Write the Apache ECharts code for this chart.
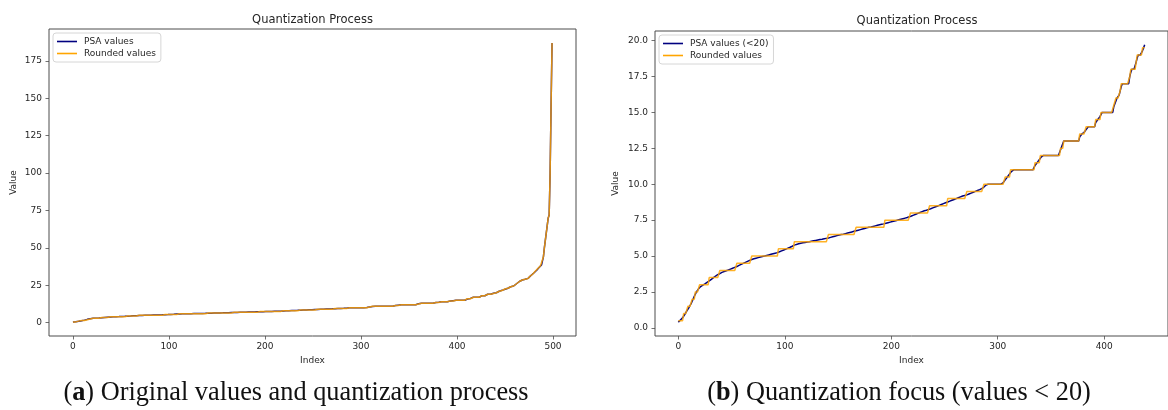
<!DOCTYPE html>
<html>
<head>
<meta charset="utf-8">
<title>Quantization Process</title>
<script src="https://cdn.jsdelivr.net/npm/echarts@6/dist/echarts.min.js"></script>
<style>
  html, body { margin: 0; padding: 0; background: #ffffff; }
  #chart { width: 1168px; height: 410px; }
</style>
</head>
<body>
<div id="chart"></div>
<script>
// Sorted PSA values (index 0..499)
const psaValues = [
  0.40, 0.48, 0.55, 0.63, 0.70, 0.80, 0.93, 1.05, 1.18, 1.30, 1.42, 1.55, 1.68, 1.85, 2.02, 2.20, 2.35, 2.50, 2.62, 2.72,
  2.80, 2.88, 2.93, 2.98, 3.02, 3.07, 3.12, 3.17, 3.23, 3.27, 3.33, 3.38, 3.44, 3.50, 3.55, 3.60, 3.65, 3.70, 3.74,
  3.78, 3.82, 3.86, 3.89, 3.92, 3.95, 3.98, 4.00, 4.03, 4.06, 4.09, 4.12, 4.15, 4.18, 4.21, 4.24,
  4.27, 4.31, 4.35, 4.38, 4.42, 4.45, 4.49, 4.52, 4.56, 4.59, 4.63, 4.66, 4.70, 4.73,
  4.76, 4.79, 4.81, 4.83, 4.85, 4.87, 4.89, 4.91, 4.93, 4.95, 4.97, 4.99, 5.00, 5.02, 5.04, 5.06, 5.08, 5.10, 5.12, 5.14, 5.16, 5.18, 5.20, 5.22, 5.24,
  5.27, 5.30, 5.33, 5.36, 5.39, 5.42, 5.45, 5.48, 5.52, 5.55, 5.58, 5.61, 5.64, 5.68, 5.72,
  5.76, 5.79, 5.81, 5.83, 5.85, 5.87, 5.89, 5.90, 5.92, 5.94, 5.95, 5.97, 5.98, 6.00, 6.00, 6.02, 6.03, 6.05, 6.06, 6.08, 6.09, 6.10, 6.12, 6.13, 6.15, 6.16, 6.17, 6.19, 6.20, 6.21, 6.23, 6.24,
  6.26, 6.28, 6.30, 6.32, 6.34, 6.36, 6.38, 6.40, 6.42, 6.44, 6.46, 6.48, 6.50, 6.50, 6.52, 6.54, 6.56, 6.58, 6.60, 6.62, 6.64, 6.66, 6.68, 6.70, 6.72, 6.74,
  6.76, 6.78, 6.80, 6.82, 6.84, 6.86, 6.88, 6.90, 6.92, 6.94, 6.96, 6.98, 7.00, 7.00, 7.02, 7.04, 7.06, 7.08, 7.10, 7.12, 7.14, 7.16, 7.18, 7.20, 7.21, 7.23, 7.24,
  7.26, 7.28, 7.30, 7.32, 7.34, 7.36, 7.38, 7.40, 7.42, 7.44, 7.46, 7.48, 7.50, 7.52, 7.54, 7.56, 7.58, 7.60, 7.62, 7.64, 7.66, 7.68, 7.70, 7.73,
  7.76, 7.79, 7.82, 7.85, 7.88, 7.91, 7.94, 7.97, 8.00, 8.03, 8.06, 8.09, 8.12, 8.15, 8.17, 8.19, 8.21, 8.24,
  8.26, 8.29, 8.32, 8.35, 8.38, 8.41, 8.44, 8.47, 8.50, 8.53, 8.56, 8.59, 8.62, 8.65, 8.68, 8.71, 8.74,
  8.76, 8.79, 8.82, 8.85, 8.88, 8.91, 8.94, 8.97, 9.00, 9.03, 9.06, 9.09, 9.12, 9.15, 9.18, 9.20, 9.22, 9.24,
  9.26, 9.29, 9.32, 9.35, 9.38, 9.41, 9.44, 9.47, 9.50, 9.53, 9.56, 9.59, 9.62, 9.65, 9.69, 9.73,
  9.80, 9.90, 9.95, 10, 10, 10, 10, 10, 10, 10, 10, 10, 10, 10, 10, 10, 10, 10, 10.10, 10.20,
  10.30, 10.40, 10.50, 10.60, 10.70, 10.80, 10.90,
  11, 11, 11, 11, 11, 11, 11, 11, 11, 11, 11, 11, 11, 11, 11, 11, 11, 11, 11, 11, 11,
  11.30, 11.40, 11.50, 11.60, 11.70, 11.80, 11.90,
  12, 12, 12, 12, 12, 12, 12, 12, 12, 12, 12, 12, 12, 12, 12, 12, 12,
  12.40, 12.60, 12.70,
  13, 13, 13, 13, 13, 13, 13, 13, 13, 13, 13, 13, 13, 13, 13,
  13.30, 13.40, 13.50, 13.50, 13.60, 13.70, 13.80, 13.90,
  14, 14, 14, 14, 14, 14, 14,
  14.30, 14.40, 14.50, 14.60, 14.70, 14.80,
  15, 15, 15, 15, 15, 15, 15, 15, 15, 15, 15,
  15.40, 15.60, 15.80, 16.00, 16.00, 16.20, 16.50, 16.80,
  17, 17, 17, 17, 17, 17, 17,
  17.50, 17.80, 18, 18, 18, 18, 18.50, 18.80, 19, 19, 19, 19, 19.30, 19.50, 19.70,
  20.0, 20.0, 20.0, 20.5, 20.8, 21.0, 21.0, 21.3, 21.6, 22.0, 22.0, 22.3, 22.6, 23.0, 23.0, 23.3, 23.6, 24.0, 24.0, 24.2,
  24.5, 25.0, 25.5, 26.0, 26.5, 27.0, 27.5, 28.0, 28.2, 28.5, 28.7, 29.0, 29.0, 29.1, 29.3, 29.6, 30.2, 30.9, 31.5, 32.0,
  32.6, 33.2, 33.8, 34.3, 35.0, 35.8, 36.5, 37.2, 37.8, 38.5, 39.2, 44.0, 50.0, 55.0, 60.0, 65.0, 70.0, 72.0, 100.0, 145.0,
  187.0
];

// The same values rounded to the nearest 0.5
const roundedValues = [
  0.5, 0.5, 0.5, 0.5, 0.5,
  1, 1, 1, 1,
  1.5, 1.5, 1.5, 1.5,
  2, 2, 2,
  2.5, 2.5, 2.5, 2.5,
  3, 3, 3, 3, 3, 3, 3, 3, 3,
  3.5, 3.5, 3.5, 3.5, 3.5, 3.5, 3.5, 3.5, 3.5, 3.5,
  4, 4, 4, 4, 4, 4, 4, 4, 4, 4, 4, 4, 4, 4, 4, 4,
  4.5, 4.5, 4.5, 4.5, 4.5, 4.5, 4.5, 4.5, 4.5, 4.5, 4.5, 4.5, 4.5, 4.5,
  5, 5, 5, 5, 5, 5, 5, 5, 5, 5, 5, 5, 5, 5, 5, 5, 5, 5, 5, 5, 5, 5, 5, 5, 5,
  5.5, 5.5, 5.5, 5.5, 5.5, 5.5, 5.5, 5.5, 5.5, 5.5, 5.5, 5.5, 5.5, 5.5, 5.5,
  6, 6, 6, 6, 6, 6, 6, 6, 6, 6, 6, 6, 6, 6, 6, 6, 6, 6, 6, 6, 6, 6, 6, 6, 6, 6, 6, 6, 6, 6, 6, 6,
  6.5, 6.5, 6.5, 6.5, 6.5, 6.5, 6.5, 6.5, 6.5, 6.5, 6.5, 6.5, 6.5, 6.5, 6.5, 6.5, 6.5, 6.5, 6.5, 6.5, 6.5, 6.5, 6.5, 6.5, 6.5, 6.5,
  7, 7, 7, 7, 7, 7, 7, 7, 7, 7, 7, 7, 7, 7, 7, 7, 7, 7, 7, 7, 7, 7, 7, 7, 7, 7, 7,
  7.5, 7.5, 7.5, 7.5, 7.5, 7.5, 7.5, 7.5, 7.5, 7.5, 7.5, 7.5, 7.5, 7.5, 7.5, 7.5, 7.5, 7.5, 7.5, 7.5, 7.5, 7.5, 7.5, 7.5,
  8, 8, 8, 8, 8, 8, 8, 8, 8, 8, 8, 8, 8, 8, 8, 8, 8, 8,
  8.5, 8.5, 8.5, 8.5, 8.5, 8.5, 8.5, 8.5, 8.5, 8.5, 8.5, 8.5, 8.5, 8.5, 8.5, 8.5, 8.5,
  9, 9, 9, 9, 9, 9, 9, 9, 9, 9, 9, 9, 9, 9, 9, 9, 9, 9,
  9.5, 9.5, 9.5, 9.5, 9.5, 9.5, 9.5, 9.5, 9.5, 9.5, 9.5, 9.5, 9.5, 9.5, 9.5, 9.5,
  10, 10, 10, 10, 10, 10, 10, 10, 10, 10, 10, 10, 10, 10, 10, 10, 10, 10, 10, 10,
  10.5, 10.5, 10.5, 10.5, 10.5,
  11, 11, 11, 11, 11, 11, 11, 11, 11, 11, 11, 11, 11, 11, 11, 11, 11, 11, 11, 11, 11, 11, 11,
  11.5, 11.5, 11.5, 11.5, 11.5,
  12, 12, 12, 12, 12, 12, 12, 12, 12, 12, 12, 12, 12, 12, 12, 12, 12, 12, 12,
  12.5, 12.5, 12.5,
  13, 13, 13, 13, 13, 13, 13, 13, 13, 13, 13, 13, 13, 13, 13,
  13.5, 13.5, 13.5, 13.5, 13.5, 13.5,
  14, 14, 14, 14, 14, 14, 14, 14, 14,
  14.5, 14.5, 14.5, 14.5, 14.5,
  15, 15, 15, 15, 15, 15, 15, 15, 15, 15, 15, 15,
  15.5, 15.5,
  16, 16, 16, 16,
  16.5,
  17, 17, 17, 17, 17, 17, 17, 17,
  17.5,
  18, 18, 18, 18, 18,
  18.5,
  19, 19, 19, 19, 19,
  19.5, 19.5, 19.5,
  20.0, 20.0, 20.0, 20.5, 21.0, 21.0, 21.0, 21.5, 21.5, 22.0, 22.0, 22.5, 22.5, 23.0, 23.0, 23.5, 23.5, 24.0, 24.0, 24.0,
  24.5, 25.0, 25.5, 26.0, 26.5, 27.0, 27.5, 28.0, 28.0, 28.5, 28.5, 29.0, 29.0, 29.0, 29.5, 29.5, 30.0, 31.0, 31.5, 32.0,
  32.5, 33.0, 34.0, 34.5, 35.0, 36.0, 36.5, 37.0, 38.0, 38.5, 39.0, 44.0, 50.0, 55.0, 60.0, 65.0, 70.0, 72.0, 100.0, 145.0,
  187.0
];

// Tick positions
const xTicksAll = [0, 100, 200, 300, 400, 500];
const yTicksAll = [0, 25, 50, 75, 100, 125, 150, 175];
const xTicksFocus = [0, 100, 200, 300, 400];
const yTicksFocus = [0, 2.5, 5, 7.5, 10, 12.5, 15, 17.5, 20];

// Texts
const panelTitle = 'Quantization Process';
const seriesNames = ['PSA values', 'Rounded values', 'PSA values (<20)'];
const captionA = ['a', 'Original values and quantization process'];
const captionB = ['b', 'Quantization focus (values < 20)'];
const threshold = 20;

// ---- build ----
const focusPsa = [];
const focusRounded = [];
psaValues.forEach(function (v, i) {
  if (v < threshold) { focusPsa.push(v); focusRounded.push(roundedValues[i]); }
});

function pairs(arr) { return arr.map(function (v, i) { return [i, v]; }); }

// axis limits with a 5% margin around the data, as in a default matplotlib plot
function padded(lo, hi) { const m = (hi - lo) * 0.05; return [lo - m, hi + m]; }
function dataRange(a, b) {
  const all = a.concat(b);
  return [Math.min.apply(null, all), Math.max.apply(null, all)];
}
const xAll = padded(0, psaValues.length - 1);
const yAll = padded.apply(null, dataRange(psaValues, roundedValues));
const xFoc = padded(0, focusPsa.length - 1);
const yFoc = padded.apply(null, dataRange(focusPsa, focusRounded));

const SANS = 'DejaVu Sans';
const TXT = '#262626';
const EDGE = '#4d4d4d';
const NAVY = '#000080';
const ORANGE = '#FFA500';

function axis(gridIndex, range, ticks, name, nameGap, labelMargin, fmt) {
  return {
    type: 'value', gridIndex: gridIndex, min: range[0], max: range[1],
    name: name, nameLocation: 'middle', nameGap: nameGap,
    nameTextStyle: { fontFamily: SANS, fontSize: 9, color: TXT },
    splitLine: { show: false },
    axisLine: { show: false, onZero: false },
    axisTick: { show: true, inside: false, length: 3.5, customValues: ticks, lineStyle: { color: EDGE, width: 0.8 } },
    axisLabel: { show: true, customValues: ticks, margin: labelMargin, fontFamily: SANS, fontSize: 9, color: TXT, formatter: fmt }
  };
}

function legend(left, top, names) {
  return {
    data: names, left: left, top: top, orient: 'vertical',
    icon: 'rect', itemWidth: 20, itemHeight: 1.6, itemGap: 3,
    backgroundColor: 'rgba(255,255,255,0.85)', borderColor: '#d6d6d6', borderWidth: 1, borderRadius: 3,
    padding: [4, 5, 4, 4], selectedMode: false,
    textStyle: { fontFamily: SANS, fontSize: 9, color: TXT, padding: [0, 0, 0, 2] }
  };
}

function lineSeries(name, data, xi, color, z, opacity) {
  return {
    type: 'line', name: name, data: pairs(data), xAxisIndex: xi, yAxisIndex: xi,
    showSymbol: false, symbol: 'none', z: z, clip: true,
    color: color, lineStyle: { color: color, width: 1.5, opacity: opacity },
    emphasis: { disabled: true }
  };
}

function text(x, y, str, size, family, extra) {
  const style = Object.assign({
    text: str, x: x, y: y, fontSize: size, fontFamily: family, fill: TXT,
    align: 'center', verticalAlign: 'middle', textAlign: 'center', textVerticalAlign: 'middle'
  }, extra || {});
  return { type: 'text', silent: true, style: style };
}

const fmtOne = function (v) { return v.toFixed(1); };
const fmtInt = function (v) { return String(v); };

const option = {
  animation: false,
  backgroundColor: '#ffffff',
  grid: [
    { left: 49, top: 29, width: 527, height: 307, show: true, borderColor: EDGE, borderWidth: 1, backgroundColor: 'transparent' },
    { left: 655, top: 31, width: 524, height: 305, show: true, borderColor: EDGE, borderWidth: 1, backgroundColor: 'transparent' }
  ],
  xAxis: [
    axis(0, xAll, xTicksAll, 'Index', 18, 6, fmtInt),
    axis(1, xFoc, xTicksFocus, 'Index', 18, 6, fmtInt)
  ],
  yAxis: [
    axis(0, yAll, yTicksAll, 'Value', 31, 7, fmtInt),
    axis(1, yFoc, yTicksFocus, 'Value', 35, 7, fmtOne)
  ],
  legend: [
    legend(53, 33, [seriesNames[0], seriesNames[1]]),
    legend(659, 35, [seriesNames[2], seriesNames[1]])
  ],
  series: [
    lineSeries(seriesNames[0], psaValues, 0, NAVY, 2, 1),
    lineSeries(seriesNames[1], roundedValues, 0, ORANGE, 3, 0.85),
    lineSeries(seriesNames[2], focusPsa, 1, NAVY, 2, 1),
    lineSeries(seriesNames[1], focusRounded, 1, ORANGE, 3, 0.85)
  ],
  graphic: [
    text(312.5, 20, panelTitle, 11.5, SANS),
    text(917, 21.5, panelTitle, 11.5, SANS),
    text(296, 393, '({b|' + captionA[0] + '}) ' + captionA[1], 26.3, 'Liberation Serif',
      { fill: '#111', rich: { b: { fontWeight: 'bold', fontSize: 26.3, fontFamily: 'Liberation Serif', fill: '#111' } } }),
    text(899, 393, '({b|' + captionB[0] + '}) ' + captionB[1], 26.3, 'Liberation Serif',
      { fill: '#111', rich: { b: { fontWeight: 'bold', fontSize: 26.3, fontFamily: 'Liberation Serif', fill: '#111' } } })
  ]
};

const chart = echarts.init(document.getElementById('chart'), null, { renderer: 'canvas' });
chart.setOption(option);
</script>
</body>
</html>
